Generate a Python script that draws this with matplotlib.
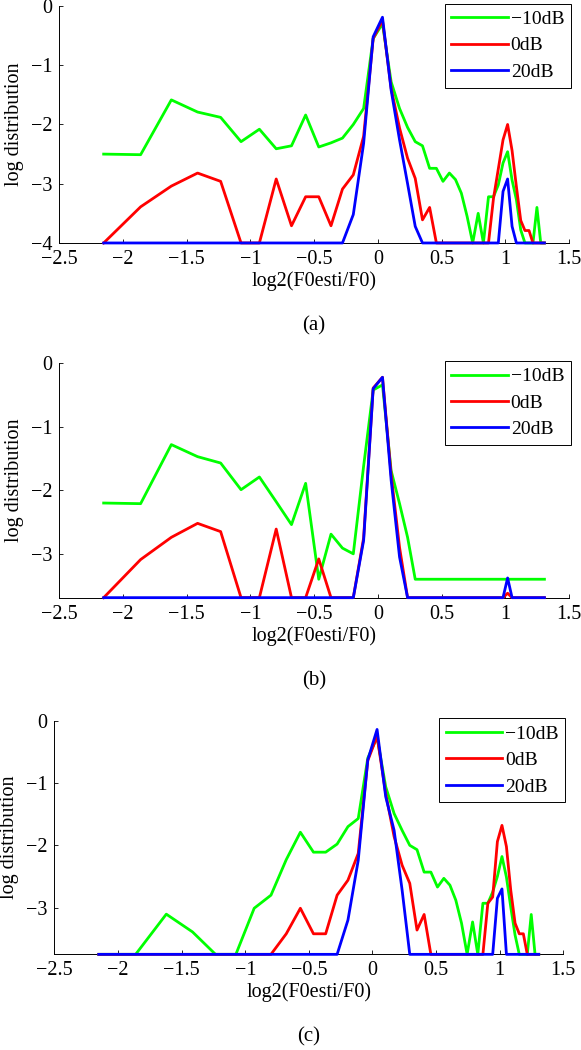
import matplotlib
matplotlib.use('Agg')
import matplotlib.pyplot as plt

plt.rcParams['font.family'] = ['Liberation Serif', 'DejaVu Serif']
plt.rcParams['font.size'] = 14.5

# bin centres, log2(F0esti/F0)
log_ratio = [-2.152, -1.862, -1.621, -1.415, -1.234, -1.074, -0.930, -0.798, -0.678, -0.567,
             -0.464, -0.368, -0.278, -0.193, -0.112, -0.037, 0.036, 0.104, 0.170, 0.233,
             0.293, 0.350, 0.406, 0.459, 0.511, 0.561, 0.609, 0.655, 0.700, 0.744,
             0.787, 0.828, 0.868, 0.907, 0.945, 0.982, 1.018, 1.053, 1.087, 1.121,
             1.154, 1.186, 1.217, 1.248, 1.278, 1.307]

labels = ['\u221210dB', '0dB', '20dB']
colors = ['#00ff00', '#ff0000', '#0000ff']

# (a)
a_m10 = [-2.50, -2.51, -1.585, -1.79, -1.88, -2.29, -2.08, -2.41, -2.36, -1.84,
         -2.38, -2.31, -2.23, -2.00, -1.73, -0.55, -0.30, -1.28, -1.73, -2.05,
         -2.29, -2.36, -2.74, -2.74, -2.96, -2.82, -2.93, -3.16, -3.55, -4.0,
         -3.50, -4.0, -3.22, -3.22, -3.02, -2.65, -2.46, -2.94, -3.27, -3.78,
         -4.0, -4.0, -4.0, -3.40, -4.0, -4.0]
a_0 = [-4.0, -3.39, -3.04, -2.82, -2.96, -4.0, -4.0, -2.92, -3.71, -3.22,
       -3.22, -3.71, -3.09, -2.85, -2.20, -0.55, -0.24, -1.39, -2.06, -2.57,
       -2.91, -3.61, -3.40, -4.0, -4.0, -4.0, -4.0, -4.0, -4.0, -4.0,
       -4.0, -4.0, -4.0, -3.25, -2.75, -2.26, -2.00, -2.44, -3.05, -3.62,
       -3.79, -3.79, -4.0, -4.0, -4.0, -4.0]
a_20 = [-4.0, -4.0, -4.0, -4.0, -4.0, -4.0, -4.0, -4.0, -4.0, -4.0,
        -4.0, -4.0, -4.0, -3.52, -2.32, -0.52, -0.19, -1.42, -2.26, -3.00,
        -3.72, -4.0, -4.0, -4.0, -4.0, -4.0, -4.0, -4.0, -4.0, -4.0,
        -4.0, -4.0, -4.0, -4.0, -4.0, -3.13, -2.92, -3.72, -4.0, -4.0,
        -4.0, -4.0, -4.0, -4.0, -4.0, -4.0]

# (b)
b_m10 = [-2.20, -2.21, -1.28, -1.47, -1.57, -1.99, -1.79, -2.18, -2.54, -1.89,
         -3.40, -2.69, -2.91, -3.00, -1.62, -0.42, -0.34, -1.69, -2.21, -2.74,
         -3.40, -3.40, -3.40, -3.40, -3.40, -3.40, -3.40, -3.40, -3.40, -3.40,
         -3.40, -3.40, -3.40, -3.40, -3.40, -3.40, -3.40, -3.40, -3.40, -3.40,
         -3.40, -3.40, -3.40, -3.40, -3.40, -3.40]
b_0 = [-3.69, -3.09, -2.74, -2.52, -2.65, -3.69, -3.69, -2.61, -3.69, -3.69,
       -3.08, -3.69, -3.69, -3.69, -2.75, -0.39, -0.22, -1.75, -2.90, -3.69,
       -3.69, -3.69, -3.69, -3.69, -3.69, -3.69, -3.69, -3.69, -3.69, -3.69,
       -3.69, -3.69, -3.69, -3.69, -3.69, -3.69, -3.62, -3.69, -3.69, -3.69,
       -3.69, -3.69, -3.69, -3.69, -3.69, -3.69]
b_20 = [-3.69, -3.69, -3.69, -3.69, -3.69, -3.69, -3.69, -3.69, -3.69, -3.69,
        -3.69, -3.69, -3.69, -3.69, -2.79, -0.40, -0.22, -1.84, -3.05, -3.69,
        -3.69, -3.69, -3.69, -3.69, -3.69, -3.69, -3.69, -3.69, -3.69, -3.69,
        -3.69, -3.69, -3.69, -3.69, -3.69, -3.69, -3.38, -3.69, -3.69, -3.69,
        -3.69, -3.69, -3.69, -3.69, -3.69, -3.69]

# (c)
c_m10 = [-3.75, -3.75, -3.105, -3.39, -3.75, -3.75, -3.01, -2.80, -2.23, -1.79,
         -2.11, -2.11, -1.98, -1.70, -1.57, -0.60, -0.26, -1.06, -1.49, -1.76,
         -2.00, -2.07, -2.43, -2.43, -2.67, -2.53, -2.64, -2.88, -3.25, -3.75,
         -3.23, -3.75, -2.93, -2.93, -2.75, -2.50, -2.18, -2.51, -2.99, -3.44,
         -3.75, -3.75, -3.75, -3.11, -3.75, -3.75]
c_0 = [-3.75, -3.75, -3.75, -3.75, -3.75, -3.75, -3.75, -3.75, -3.42, -3.01,
       -3.42, -3.42, -2.80, -2.56, -2.13, -0.64, -0.25, -1.17, -1.86, -2.32,
       -2.61, -3.36, -3.11, -3.75, -3.75, -3.75, -3.75, -3.75, -3.75, -3.75,
       -3.75, -3.75, -3.75, -2.93, -2.83, -1.94, -1.68, -2.02, -2.72, -3.25,
       -3.42, -3.42, -3.75, -3.75, -3.75, -3.75]
c_20 = [-3.75, -3.75, -3.75, -3.75, -3.75, -3.75, -3.75, -3.75, -3.75, -3.75,
        -3.75, -3.75, -3.75, -3.20, -2.24, -0.63, -0.14, -1.22, -1.76, -2.72,
        -3.75, -3.75, -3.75, -3.75, -3.75, -3.75, -3.75, -3.75, -3.75, -3.75,
        -3.75, -3.75, -3.75, -3.75, -3.75, -2.85, -2.70, -3.75, -3.75, -3.75,
        -3.75, -3.75, -3.75, -3.75, -3.75, -3.75]

panels = [
    ('(a)', [a_m10, a_0, a_20], -4.0, [0.1021, 0.7686, 0.8773, 0.2257]),
    ('(b)', [b_m10, b_0, b_20], -3.69, [0.1021, 0.4308, 0.8773, 0.2232]),
    ('(c)', [c_m10, c_0, c_20], -3.75, [0.0938, 0.0911, 0.8757, 0.2225]),
]

fig = plt.figure(figsize=(5.81, 10.5), dpi=100)

for caption, series, ymin, rect in panels:
    ax = fig.add_axes(rect)
    for y, lab, col in zip(series, labels, colors):
        ax.plot(log_ratio, y, color=col, linewidth=2.0, label=lab, clip_on=False, zorder=3)
    ax.set_xlim(-2.5, 1.5)
    ax.set_ylim(ymin, 0)
    ax.set_xticks([-2.5, -2, -1.5, -1, -0.5, 0, 0.5, 1, 1.5])
    ax.set_xticklabels(['\u22122.5', '\u22122', '\u22121.5', '\u22121', '\u22120.5', '0', '0.5', '1', '1.5'])
    ax.set_yticks([0, -1, -2, -3] + ([-4] if ymin <= -4 else []))
    ax.spines['top'].set_visible(False)
    ax.spines['right'].set_visible(False)
    for s in ('left', 'bottom'):
        ax.spines[s].set_linewidth(0.7)
        ax.spines[s].set_zorder(1)
    ax.tick_params(direction='in', length=3, width=0.6, pad=5)
    ax.set_xlabel('log2(F0esti/F0)')
    ax.xaxis.set_label_coords(0.5, -38.0 / (rect[3] * 1050))
    ax.xaxis.label.set_va('center')
    ax.set_ylabel('log distribution')
    ax.yaxis.set_label_coords(-45.0 / (rect[2] * 581), 0.5)
    ax.yaxis.label.set_va('center')
    leg = ax.legend(loc='upper right', bbox_to_anchor=(1.004, 1.01), borderaxespad=0,
                    fancybox=False, edgecolor='black', framealpha=1, fontsize=14,
                    handlelength=2.9, handletextpad=0.15, borderpad=0.35, labelspacing=0.45)
    leg.get_frame().set_linewidth(0.7)
    leg.set_zorder(5)
    fig.text(rect[0] + rect[2] / 2, rect[1] - 83.0 / 1050, caption,
             ha='center', va='center', fontsize=15)

fig.savefig('out.png', dpi=100)
